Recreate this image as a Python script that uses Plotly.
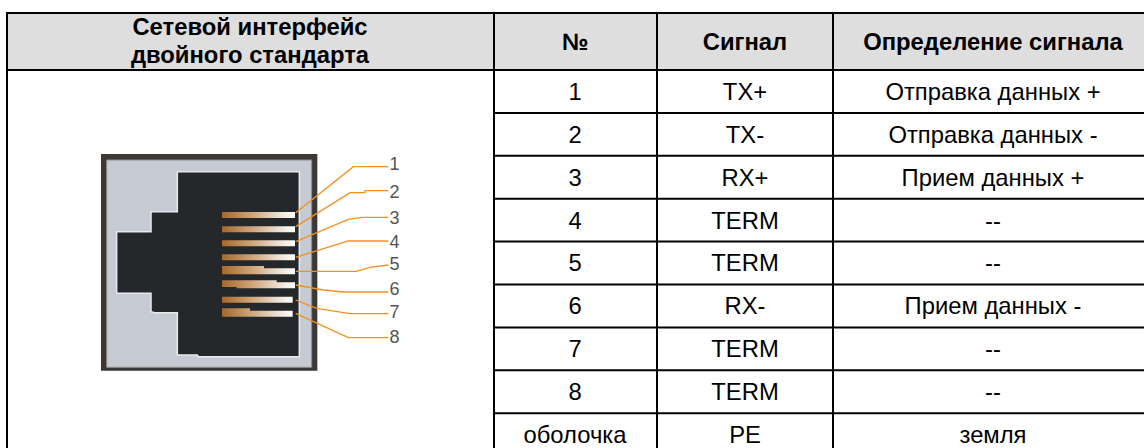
import plotly.graph_objects as go

W, H = 1144, 448
header_left = ["Сетевой интерфейс", "двойного стандарта"]
headers = ["№", "Сигнал", "Определение сигнала"]
pin_numbers = ["1", "2", "3", "4", "5", "6", "7", "8", "оболочка"]
signals = ["TX+", "TX-", "RX+", "TERM", "TERM", "RX-", "TERM", "TERM", "PE"]
definitions = ["Отправка данных +", "Отправка данных -", "Прием данных +", "--", "--",
               "Прием данных -", "--", "--", "земля"]
connector_labels = ["1", "2", "3", "4", "5", "6", "7", "8"]

# table geometry (pixels)
X_EDGES = [7, 494, 657, 833]
X_CENTERS = [250, 575, 745, 993]
Y_TOP, Y_HEAD = 13, 70
ROW_H = 42.9
FONT = "Liberation Sans, Arial, sans-serif"
TEXT_SIZE = 23.8
TEXT_DY = 2.5


def zx(v):  # picture sketch coordinates -> page pixels
    return 90 + v / 3


def zy(v):
    return 140 + v / 3


fig = go.Figure()
shapes = []


def rect(x0, y0, x1, y1, fill, line=None, lw=0):
    shapes.append(dict(type="rect", x0=x0, y0=y0, x1=x1, y1=y1, fillcolor=fill,
                       line=dict(color=line or fill, width=lw), layer="below"))


def hline(y, x0=X_EDGES[0] - 1, x1=W):
    shapes.append(dict(type="line", x0=x0, x1=x1, y0=y, y1=y, line=dict(color="#000", width=2)))


def vline(x, y0, y1=H):
    shapes.append(dict(type="line", x0=x, x1=x, y0=y0, y1=y1, line=dict(color="#000", width=2)))


rect(X_EDGES[0], Y_TOP, W, Y_HEAD, "#dedede")
hline(Y_TOP)
hline(Y_HEAD)
vline(X_EDGES[0], Y_TOP - 1)
for x in X_EDGES[1:]:
    vline(x, Y_TOP - 1)
for i in range(1, 9):
    hline(Y_HEAD + i * ROW_H, x0=X_EDGES[1] - 1)

# connector picture
rect(zx(33), zy(42), zx(682), zy(692), "#3b3835")
rect(zx(50), zy(60), zx(665), zy(682), "#c6cad2", "#8c8c8c", 1)
cavity = [(262, 95), (628, 95), (628, 650), (325, 650), (322, 645), (262, 645), (262, 518),
          (195, 518), (183, 515), (183, 460), (80, 460), (80, 275), (183, 275), (183, 215),
          (262, 215), (262, 95)]
fig.add_trace(go.Scatter(x=[zx(p[0]) for p in cavity], y=[zy(p[1]) for p in cavity], mode="lines",
                         fill="toself", fillcolor="#25282a", line=dict(color="#e8eaec", width=1.5),
                         hoverinfo="skip"))
pins = [
    [(396, 216), (615, 216), (615, 234), (396, 234)],
    [(396, 259), (615, 259), (615, 277), (396, 277)],
    [(396, 301), (615, 301), (615, 319), (396, 319)],
    [(396, 343), (615, 343), (615, 361), (396, 361)],
    [(396, 378), (522, 378), (522, 385), (615, 385), (615, 403), (396, 403)],
    [(396, 421), (560, 421), (560, 427), (615, 427), (615, 445), (440, 445), (440, 441), (396, 441)],
    [(396, 470), (608, 470), (608, 488), (396, 488)],
    [(396, 505), (480, 505), (480, 512), (608, 512), (608, 530), (396, 530)],
]
for pin in pins:
    pin = pin + [pin[0]]
    fig.add_trace(go.Scatter(x=[zx(p[0]) for p in pin], y=[zy(p[1]) for p in pin], mode="lines",
                             fill="toself", line=dict(width=0), hoverinfo="skip",
                             fillgradient=dict(type="horizontal",
                                               colorscale=[[0, "#a5682c"], [0.4, "#cfa376"],
                                                           [0.75, "#e9dccd"], [1, "#ffffff"]])))
wires = [
    [(617, 218), (690, 160), (790, 80), (895, 80)],
    [(617, 260), (780, 158), (825, 158), (825, 152), (895, 152)],
    [(617, 305), (775, 238), (815, 232), (895, 232)],
    [(617, 352), (775, 303), (895, 303)],
    [(617, 394), (800, 394), (840, 382), (895, 375)],
    [(617, 435), (700, 450), (760, 456), (895, 456)],
    [(617, 480), (680, 505), (780, 521), (895, 521)],
    [(617, 520), (775, 593), (895, 593)],
]
for wire in wires:
    fig.add_trace(go.Scatter(x=[zx(p[0]) for p in wire], y=[zy(p[1]) for p in wire], mode="lines",
                             line=dict(color="#f39020", width=1.3), hoverinfo="skip"))
LABEL_Y = [165, 193, 219, 243, 265, 290, 313, 338]
fig.add_trace(go.Scatter(x=[394.5] * 8, y=LABEL_Y, mode="text", text=connector_labels,
                         textfont=dict(family=FONT, size=18, color="#555555"), hoverinfo="skip"))

# table text
fig.add_trace(go.Scatter(x=[X_CENTERS[0]] * 2, y=[29, 57], mode="text", text=header_left,
                         textfont=dict(family=FONT, size=TEXT_SIZE, color="#000", weight="bold"),
                         hoverinfo="skip"))
fig.add_trace(go.Scatter(x=X_CENTERS[1:], y=[42 + TEXT_DY] * 3, mode="text", text=headers,
                         textfont=dict(family=FONT, size=TEXT_SIZE, color="#000", weight="bold"),
                         hoverinfo="skip"))
row_y = [Y_HEAD + (i + 0.5) * ROW_H + TEXT_DY for i in range(len(pin_numbers))]
for cx, col in zip(X_CENTERS[1:], [pin_numbers, signals, definitions]):
    fig.add_trace(go.Scatter(x=[cx] * len(col), y=row_y, mode="text", text=col,
                             textfont=dict(family=FONT, size=TEXT_SIZE, color="#000"), hoverinfo="skip"))

fig.update_layout(width=W, height=H, margin=dict(l=0, r=0, t=0, b=0), showlegend=False,
                  paper_bgcolor="#fff", plot_bgcolor="#fff", shapes=shapes,
                  xaxis=dict(range=[0, W], visible=False, fixedrange=True),
                  yaxis=dict(range=[H, 0], visible=False, fixedrange=True))
fig.write_html("out.html", config={"displayModeBar": False},
               post_script="document.body.style.margin='0';document.documentElement.style.overflow='hidden';")
